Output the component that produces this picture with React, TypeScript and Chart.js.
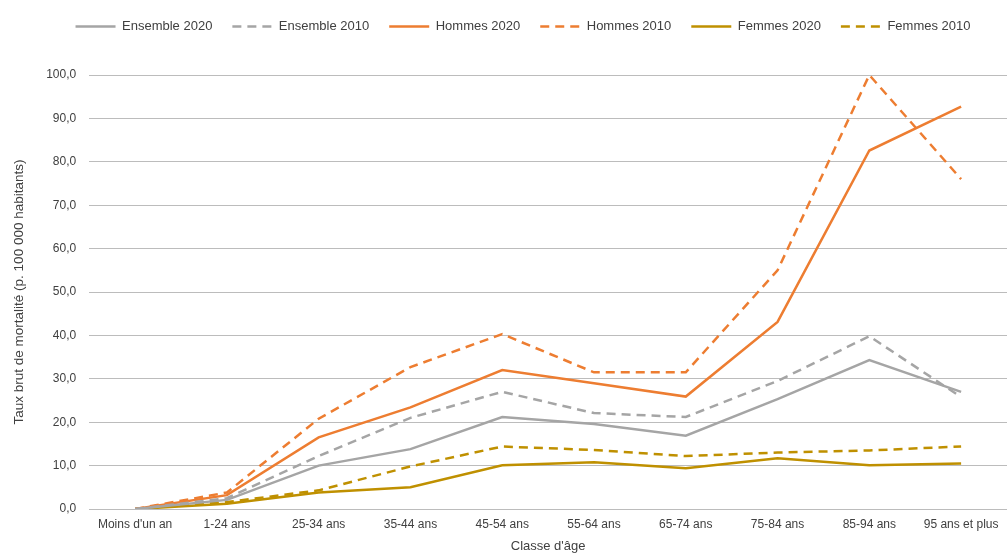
import React, { useEffect, useRef } from "react";
import { Chart, registerables } from "chart.js";

Chart.register(...registerables);

const categories = ["Moins d'un an", "1-24 ans", "25-34 ans", "35-44 ans", "45-54 ans", "55-64 ans", "65-74 ans", "75-84 ans", "85-94 ans", "95 ans et plus"];
const ensemble2020 = [0, 2.1, 10.0, 13.8, 21.2, 19.6, 16.9, 25.3, 34.3, 27.0];
const ensemble2010 = [0, 2.5, 12.2, 21.0, 27.0, 22.1, 21.2, 29.5, 39.8, 25.8];
const hommes2020 = [0, 3.2, 16.5, 23.4, 32.0, 29.0, 25.9, 43.1, 82.6, 92.7];
const hommes2010 = [0, 3.8, 20.8, 32.7, 40.3, 31.5, 31.5, 55.0, 100.0, 76.0];
const femmes2020 = [0, 1.2, 3.8, 5.0, 10.1, 10.8, 9.4, 11.7, 10.1, 10.5];
const femmes2010 = [0, 1.6, 4.3, 9.8, 14.4, 13.6, 12.2, 13.0, 13.5, 14.4];

const GRAY = "#A5A5A5";
const ORANGE = "#ED7D31";
const GOLD = "#BF9000";
const FONT = "'Liberation Sans', Arial, sans-serif";

const legendSpacer = {
  id: "legendSpacer",
  beforeInit(chart: any) {
    const legend = chart.legend;
    if (!legend) return;
    const origFit = legend.fit;
    legend.fit = function () {
      origFit.call(this);
      this.height += 32;
    };
  },
  afterLayout(chart: any) {
    const legend = chart.legend;
    if (!legend) return;
    legend.left += 14;
    legend.right += 14;
  },
};

export default function App() {
  const ref = useRef<HTMLCanvasElement | null>(null);
  useEffect(() => {
    document.body.style.margin = "0";
    const mk = (label: string, data: number[], color: string, dashed: boolean) => ({
      label,
      data,
      borderColor: color,
      backgroundColor: color,
      borderWidth: 2.5,
      borderDash: dashed ? [9, 6] : [],
      pointRadius: 0,
      pointStyle: "line" as const,
      tension: 0,
      fill: false,
    });
    const chart = new Chart(ref.current!, {
      type: "line",
      plugins: [legendSpacer],
      data: {
        labels: categories,
        datasets: [
          mk("Ensemble 2020", ensemble2020, GRAY, false),
          mk("Ensemble 2010", ensemble2010, GRAY, true),
          mk("Hommes 2020", hommes2020, ORANGE, false),
          mk("Hommes 2010", hommes2010, ORANGE, true),
          mk("Femmes 2020", femmes2020, GOLD, false),
          mk("Femmes 2010", femmes2010, GOLD, true),
        ],
      },
      options: {
        animation: false,
        responsive: false,
        maintainAspectRatio: false,
        layout: { padding: { top: 0, right: 0, bottom: 0, left: 11 } },
        plugins: {
          legend: {
            position: "top",
            labels: {
              usePointStyle: true,
              pointStyle: "line",
              pointStyleWidth: 40,
              boxWidth: 40,
              padding: 20,
              color: "#404040",
              font: { family: FONT, size: 13 },
              generateLabels: (c: any) =>
                c.data.datasets.map((ds: any, i: number) => ({
                  text: ds.label,
                  fillStyle: ds.borderColor,
                  strokeStyle: ds.borderColor,
                  lineWidth: 2.5,
                  lineDash: ds.borderDash,
                  pointStyle: "line",
                  hidden: false,
                  datasetIndex: i,
                  fontColor: "#404040",
                })),
            },
          },
          tooltip: { enabled: false },
        },
        scales: {
          x: {
            offset: true,
            grid: { display: false },
            border: { display: false },
            ticks: { color: "#404040", font: { family: FONT, size: 12 }, padding: 0, maxRotation: 0, autoSkip: false },
            title: { display: true, text: "Classe d'âge", color: "#404040", font: { family: FONT, size: 13 }, padding: { top: 7, bottom: 0 } },
          },
          y: {
            min: 0,
            max: 100,
            grid: { color: "#bcbcbc", lineWidth: 1, drawTicks: false },
            border: { display: false },
            ticks: {
              stepSize: 10,
              padding: 13,
              color: "#404040",
              font: { family: FONT, size: 12 },
              callback: (v: any) => Number(v).toFixed(1).replace(".", ","),
            },
            title: { display: true, text: "Taux brut de mortalité (p. 100 000 habitants)", color: "#404040", font: { family: FONT, size: 13.5 }, padding: { top: 0, bottom: 6 } },
          },
        },
      },
    });
    return () => chart.destroy();
  }, []);
  return (
    <div style={{ position: "absolute", left: 0, top: 0, width: 1007, height: 554 }}>
      <canvas ref={ref} width={1007} height={554} />
    </div>
  );
}
